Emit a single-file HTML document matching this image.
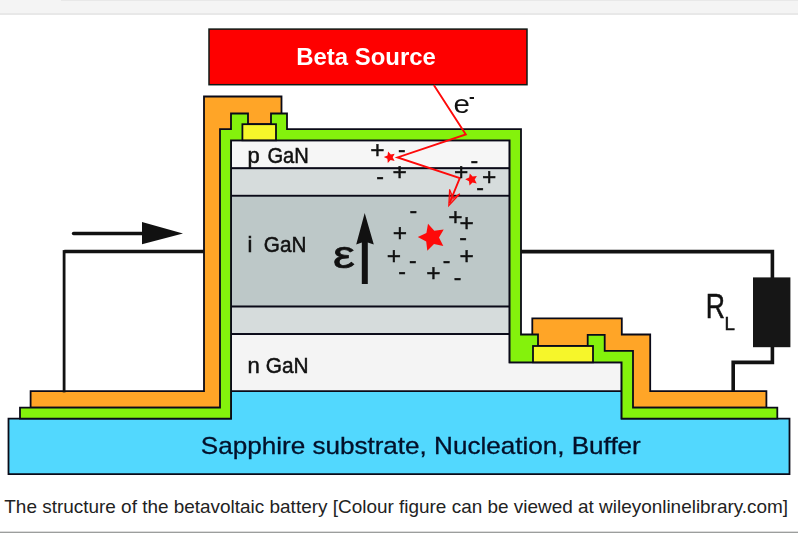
<!DOCTYPE html>
<html>
<head>
<meta charset="utf-8">
<title>The structure of the betavoltaic battery</title>
<style>
html,body{margin:0;padding:0;background:#fff;}
body{width:798px;height:533px;overflow:hidden;position:relative;font-family:"Liberation Sans",sans-serif;}
#top{position:absolute;left:0;top:0;width:798px;height:12.5px;background:#f4f4f4;}
#topline{position:absolute;left:0;top:12.5px;width:798px;height:2.5px;background:#e8e8e8;}
#topedge{position:absolute;left:61px;top:0;width:737px;height:1px;background:#e8e8e8;}
#bot{position:absolute;left:0;top:531px;width:798px;height:2px;background:linear-gradient(#dcdcdc 0,#dcdcdc 1px,#9c9e9d 1px,#9c9e9d 2px);}
#cap{position:absolute;left:4.3px;top:496.2px;margin:0;font-size:18.945px;line-height:22px;color:#222;white-space:nowrap;letter-spacing:0;}
svg{position:absolute;left:0;top:0;filter:blur(0.4px);}
svg text{font-family:"Liberation Sans",sans-serif;}
.o{stroke:#0a0a18;stroke-width:1.8;stroke-linejoin:miter;}
.w{stroke:#111;stroke-width:3.1;fill:none;stroke-linejoin:miter;}
.p{font-size:24.5px;fill:#111;stroke:#111;stroke-width:0.45px;text-anchor:middle;}
.m{font-size:23px;fill:#111;stroke:#111;stroke-width:0.4px;text-anchor:middle;}
</style>
</head>
<body>
<div id="top"></div><div id="topline"></div><div id="topedge"></div>
<svg width="798" height="533" viewBox="0 0 798 533">
  <!-- substrate -->
  <polygon class="o" fill="#52d8fe" points="8.5,418.6 231,418.6 231,391.2 621.6,391.2 621.6,418.6 789.5,418.6 789.5,474.1 8.5,474.1"/>
  <!-- layer stack -->
  <rect class="o" x="231" y="140.3" width="278.6" height="28" fill="#f6f6f6"/>
  <rect class="o" x="231" y="168.3" width="278.6" height="27.5" fill="#d6dcdc"/>
  <rect class="o" x="231" y="195.8" width="278.6" height="110.8" fill="#bdc8c8"/>
  <rect class="o" x="231" y="306.6" width="278.6" height="27.4" fill="#d6dcdc"/>
  <polygon class="o" fill="#f4f4f4" points="231,334.2 509.6,334.2 509.6,362.3 621.6,362.3 621.6,391.2 231,391.2"/>
  <!-- orange metal -->
  <polygon class="o" fill="#ffa527" points="30.6,391.2 204,391.2 204,96.5 281.5,96.5 281.5,132 226,132 226,407.6 30.6,407.6"/>
  <polygon class="o" fill="#ffa527" points="532.3,318.4 621.8,318.4 621.8,334.5 650.2,334.5 650.2,391.2 766.4,391.2 766.4,407.6 626,407.6 626,356 532.3,356"/>
  <!-- green passivation -->
  <polygon class="o" fill="#84f20c" points="20,418.6 20,407.6 220,407.6 220,129.2 231,129.2 231,113.5 248,113.5 248,124.2 271,124.2 271,113.5 287,113.5 287,129.2 521,129.2 521,334.5 538,334.5 538,346 587.7,346 587.7,334.8 604.7,334.8 604.7,350.8 633,350.8 633,407.6 777.3,407.6 777.3,418.6 621.6,418.6 621.6,362.3 509.6,362.3 509.6,140.3 231,140.3 231,418.6"/>
  <!-- yellow contacts -->
  <rect class="o" x="242.4" y="124.2" width="33.6" height="16.1" fill="#f6f62a"/>
  <rect class="o" x="533" y="346" width="60" height="16.3" fill="#f6f62a"/>
  <!-- beta source -->
  <rect x="209" y="29.1" width="318" height="55.6" fill="#fe0000" stroke="#0e1a16" stroke-width="1.5"/>
  <text x="296.3" y="65" font-size="23.5" font-weight="bold" fill="#fff" textLength="139.5" lengthAdjust="spacingAndGlyphs">Beta Source</text>
  <!-- wires -->
  <g stroke="#121212" fill="none" stroke-linecap="square">
    <line x1="204" y1="251.5" x2="64.3" y2="251.5" stroke-width="3.3" stroke-linecap="butt"/>
    <line x1="64.1" y1="251.5" x2="64.1" y2="391" stroke-width="2.8"/>
    <polyline points="521,251.6 772.4,251.6 772.4,278" stroke-width="3.6" stroke-linecap="butt"/>
    <polyline points="772.4,347 772.4,362.4 733.2,362.4 733.2,391" stroke-width="3.6" stroke-linecap="butt"/>
  </g>
  <rect x="753" y="277.4" width="37.4" height="69.8" fill="#161616"/>
  <!-- arrows -->
  <line x1="73.6" y1="233.5" x2="146" y2="233.5" stroke="#111" stroke-width="3.6" stroke-linecap="round"/>
  <polygon points="142,222 183,233.4 142,244.2" fill="#111"/>
  <line x1="364.8" y1="284" x2="364.8" y2="240" stroke="#111" stroke-width="6"/>
  <polygon points="364.7,213 373.8,244.6 364.7,241.5 356.2,244.6" fill="#111"/>
  <!-- labels -->
  <g font-size="22" fill="#111" stroke="#111" stroke-width="0.5">
    <text x="247.6" y="162.6">p <tspan x="267.4" textLength="41.4" lengthAdjust="spacingAndGlyphs">GaN</tspan></text>
    <text x="247.6" y="251.6">i <tspan x="263.8" textLength="42.6" lengthAdjust="spacingAndGlyphs">GaN</tspan></text>
    <text x="247.6" y="373.4">n <tspan x="265.8" textLength="42.8" lengthAdjust="spacingAndGlyphs">GaN</tspan></text>
  </g>
  <text x="333.1" y="267.6" font-size="38.5" fill="#111" stroke="#111" stroke-width="0.7" textLength="21.8" lengthAdjust="spacingAndGlyphs">ε</text>
  <text transform="translate(705.8,317.8) scale(0.77,1)" font-size="34.6" fill="#111" stroke="#111" stroke-width="0.5">R</text>
  <text x="724.6" y="330.1" font-size="18.6" fill="#111" stroke="#111" stroke-width="0.5" textLength="10.4" lengthAdjust="spacingAndGlyphs">L</text>
  <text x="453.4" y="113.2" font-size="25.8" fill="#111" textLength="16.4" lengthAdjust="spacingAndGlyphs">e</text>
  <text x="471.9" y="101.9" font-size="17" font-weight="bold" fill="#111" text-anchor="middle">-</text>
  <text x="200.8" y="454.1" font-size="23.8" fill="#03102a" stroke="#03102a" stroke-width="0.3" textLength="440" lengthAdjust="spacingAndGlyphs">Sapphire substrate, Nucleation, Buffer</text>
  <!-- beta track -->
  <polyline points="433.8,85 465.8,134.4 397.6,157.4 459.8,178 449.6,203" fill="none" stroke="#fe0a0a" stroke-width="1.9" stroke-linejoin="miter"/>
  <polygon points="449.6,189.4 448.8,205.6 459.8,193.8 453.2,198.2" fill="#fe0a0a" fill-opacity="0.5" stroke="#fe0a0a" stroke-width="1.2" stroke-linejoin="miter"/>
  <!-- stars -->
  <g fill="#fe0a0a">
    <polygon points="417.8,237.0 426.4,233.1 428.0,223.8 434.3,230.8 443.7,229.4 439.0,237.6 443.3,246.0 434.0,244.1 427.3,250.8 426.2,241.4"/>
    <polygon points="383.8,157.0 387.5,155.4 388.1,151.4 390.8,154.5 394.7,153.8 392.7,157.3 394.6,160.9 390.6,160.0 387.8,162.9 387.4,158.8"/>
    <polygon points="465.2,179.3 469.1,177.6 469.8,173.4 472.6,176.6 476.9,175.9 474.7,179.6 476.7,183.4 472.5,182.5 469.5,185.5 469.0,181.3"/>
  </g>
  <!-- charges -->
  <g>
    <text class="p" x="377.5" y="158.1">+</text>
    <text class="p" x="399.6" y="179.9">+</text>
    <text class="p" x="461.1" y="179.9">+</text>
    <text class="p" x="489.1" y="185.4">+</text>
    <text class="p" x="455.4" y="224.9">+</text>
    <text class="p" x="466.7" y="230.6">+</text>
    <text class="p" x="399.8" y="241.0">+</text>
    <text class="p" x="394.0" y="263.9">+</text>
    <text class="p" x="466.7" y="263.9">+</text>
    <text class="p" x="433.4" y="280.6">+</text>
    <text class="m" x="401.9" y="156.7">-</text>
    <text class="m" x="474.4" y="168.3">-</text>
    <text class="m" x="380.2" y="184.1">-</text>
    <text class="m" x="480.1" y="195.3">-</text>
    <text class="m" x="413.3" y="217.9">-</text>
    <text class="m" x="463.1" y="245.2">-</text>
    <text class="m" x="412.9" y="267.9">-</text>
    <text class="m" x="446.6" y="267.9">-</text>
    <text class="m" x="402.2" y="279.2">-</text>
    <text class="m" x="457.5" y="284.8">-</text>
  </g>
</svg>
<p id="cap">The structure of the betavoltaic battery [Colour figure can be viewed at wileyonlinelibrary.com]</p>
<div id="bot"></div>
</body>
</html>
